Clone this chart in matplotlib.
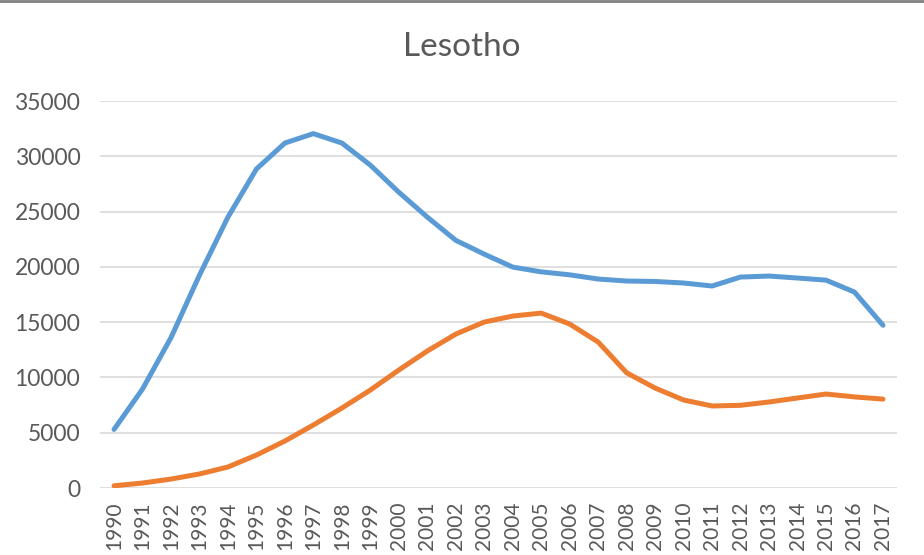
import matplotlib

matplotlib.use("Agg")
import matplotlib.pyplot as plt
import numpy as np

years = [str(y) for y in range(1990, 2018)]

# values
series_blue = [5300, 8950, 13600, 19250, 24500, 28850, 31200, 32050, 31200, 29200,
               26750, 24500, 22400, 21150, 19980, 19550, 19280, 18900, 18720, 18680,
               18540, 18270, 19080, 19170, 18990, 18800, 17720, 14720]
series_orange = [200, 450, 810, 1270, 1900, 2980, 4250, 5700, 7230, 8860,
                 10670, 12390, 13920, 15010, 15550, 15820, 14830, 13200, 10420, 9040,
                 7960, 7420, 7480, 7780, 8140, 8500, 8240, 8040]
y_ticks = list(range(0, 35001, 5000))

plt.rcParams["font.family"] = ["Lato", "DejaVu Sans"]

fig = plt.figure(figsize=(9.24, 5.55), dpi=100)
ax = fig.add_axes([0.108, 0.1207, 0.863, 0.6973])

x = np.arange(len(years))
ax.plot(x, series_blue, color="#5B9BD5", lw=3.6, solid_capstyle="round", solid_joinstyle="round", zorder=3)
ax.plot(x, series_orange, color="#ED7D31", lw=3.6, solid_capstyle="round", solid_joinstyle="round", zorder=3)

ax.set_xlim(-0.5, len(years) - 0.5)
ax.set_ylim(0, 35000)
ax.set_yticks(y_ticks)
ax.set_yticklabels([str(v) for v in y_ticks], color="#595959", fontsize=16.5)
ax.set_xticks(x)
ax.set_xticklabels(years, rotation=90, color="#595959", fontsize=15)
ax.tick_params(axis="both", length=0)
ax.tick_params(axis="y", pad=14)
ax.tick_params(axis="x", pad=10)

ax.grid(axis="y", color="#D9D9D9", lw=1.2, zorder=0)
for s in ax.spines.values():
    s.set_visible(False)

fig.text(0.5, 0.915, "Lesotho", ha="center", va="center", fontsize=24, color="#595959")

# thin gray border along top edge
fig.add_artist(plt.Line2D([0, 1], [0.998, 0.998], transform=fig.transFigure, color="#808080", lw=2))

fig.savefig("out.png", dpi=100, facecolor="white")
